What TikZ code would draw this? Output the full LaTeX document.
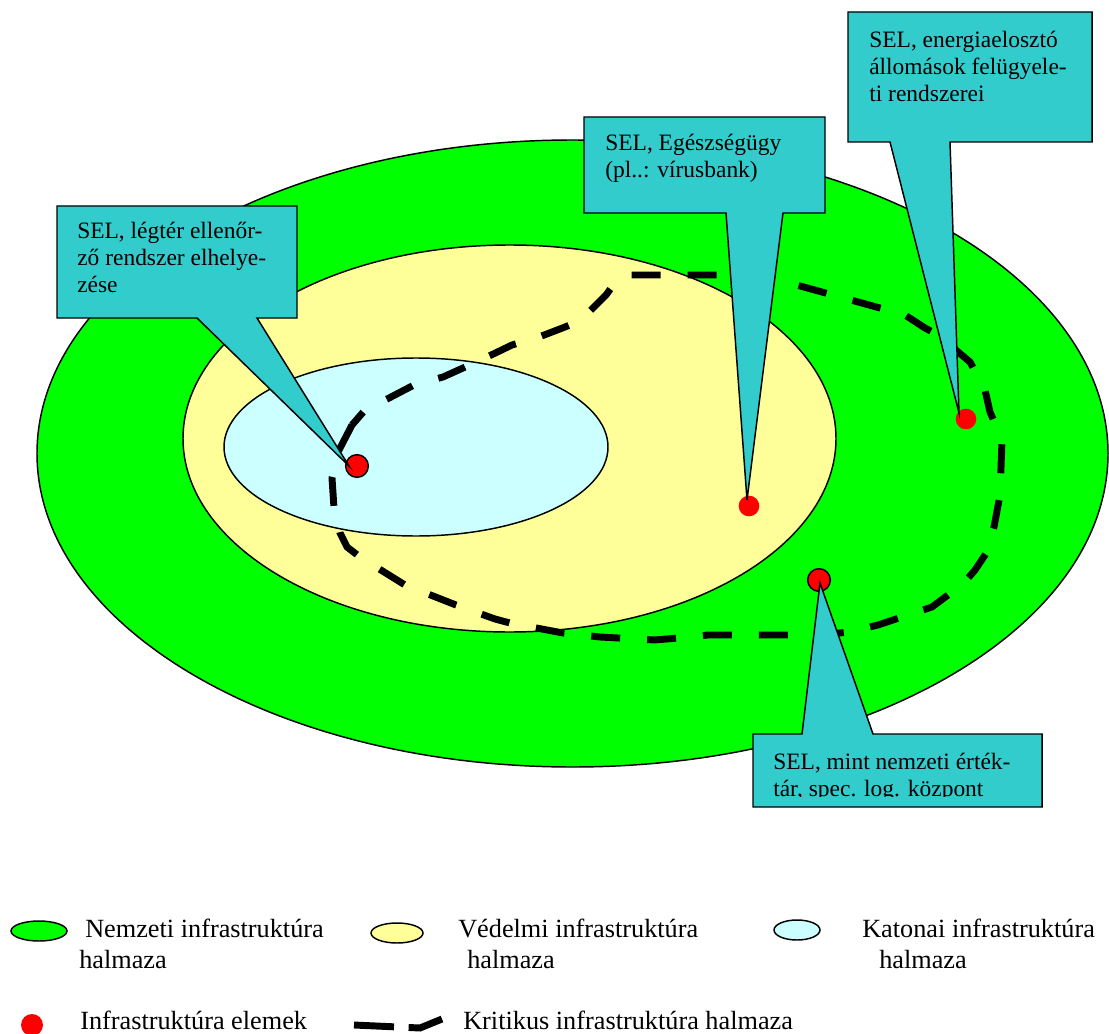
\documentclass[tikz,border=0pt]{standalone}
\usepackage{fontspec}
\setmainfont{Liberation Serif}
\definecolor{nemzeti}{HTML}{00FF00}
\definecolor{vedelmi}{HTML}{FFFF99}
\definecolor{katonai}{HTML}{CCFFFF}
\definecolor{calloutfill}{HTML}{33CCCC}
\definecolor{elem}{HTML}{FF0000}
\begin{document}
\begin{tikzpicture}[x=0.75pt,y=-0.75pt,
  outline/.style={draw=black,line width=1.1pt},
  nemzetiset/.style={outline,fill=nemzeti},
  vedelmiset/.style={outline,fill=vedelmi},
  katonaiset/.style={outline,fill=katonai},
  kritikus/.style={line width=5.2pt,dash pattern=on 21.75pt off 20.25pt},
  dotrim/.style={circle,draw=black,line width=1.1pt,fill=elem,inner sep=0pt,minimum size=17pt},
  dotplain/.style={circle,fill=elem,inner sep=0pt,minimum size=15.5pt},
  callout/.style={draw=black,line width=1.1pt,fill=calloutfill,line join=miter},
  calltext/.style={anchor=north west,inner sep=0pt,align=left,
    font=\fontsize{17.6}{20.4}\selectfont},
  legtext/.style={anchor=base west,inner sep=0pt,font=\fontsize{19.7}{23}\selectfont}
]
\useasboundingbox (0,0) rectangle (1109,1034);
\clip (0,0) rectangle (1109,1034);

% nested sets
\draw[nemzetiset] (572.5,453.5) ellipse [x radius=535.5, y radius=313.5];
\draw[vedelmiset] (509.5,438.5) ellipse [x radius=326.5, y radius=193.5];
\draw[katonaiset] (416,447) ellipse [x radius=192, y radius=89];

% critical infrastructure boundary
\draw[kritikus] (352,425) -- (338,452) -- (332,478) -- (334,508) -- (340,533)
  -- (347,547) -- (360,557) -- (405,585) -- (456,605) -- (495,619) -- (510,623)
  -- (563,633) -- (600,637) -- (655,640) -- (690,637) -- (708,635) -- (820,635)
  -- (849,632) -- (878,625) -- (932,607) -- (952,592) -- (963,584) -- (975,570)
  -- (987,552) -- (994,527) -- (1000,495) -- (1002,440) -- (990,412) -- (985,390)
  -- (970,362) -- (938,335) -- (925,328) -- (905,315) -- (851,300) -- (771,278)
  -- (733,275) -- (628,275) -- (617,280) -- (606,295) -- (588,313) -- (577,322)
  -- (565,327) -- (539,337) -- (512,345) -- (487,357) -- (463,368) -- (443,377)
  -- (414,385) -- (391,397) -- (365,410) -- cycle;

% infrastructure elements
\node[dotrim] (d1) at (357,466) {};
\node[dotplain] (d2) at (749,506) {};
\node[dotplain] (d3) at (966,419) {};
\node[dotrim] (d4) at (819,580) {};

\coordinate (t1) at (349,466);
\coordinate (t2) at (747,500);
\coordinate (t3) at (959,413);
\coordinate (t4) at (820,583);

% callouts
\draw[callout] (57,206) -- (297,206) -- (297,318) -- (257,318) -- (t1)
  -- (197,318) -- (57,318) -- cycle;
\node[calltext] (c1) at (77,222) {SEL, légtér ellenőr-\\ző rendszer elhelye-\\zése};

\draw[callout] (584,117) -- (825,117) -- (825,213) -- (783,213) -- (t2)
  -- (726,213) -- (584,213) -- cycle;
\node[calltext] (c2) at (605,134) {SEL, Egészségügy\\(pl..: vírusbank)};

\draw[callout] (848,12) -- (1092,12) -- (1092,142) -- (950,142) -- (t3)
  -- (890,142) -- (848,142) -- cycle;
\node[calltext] (c3) at (869,31) {SEL, energiaelosztó\\állomások felügyele-\\ti rendszerei};

\draw[callout] (753,734) -- (802,734) -- (t4) -- (873,734) -- (1042,734)
  -- (1042,807) -- (753,807) -- cycle;
\begin{scope}
  \clip (753,734) rectangle (1042,796);
  \node[calltext] (c4) at (773,753) {SEL, mint nemzeti érték-\\tár, spec. log. központ};
\end{scope}

% legend
\draw[nemzetiset] (39,931) ellipse [x radius=28, y radius=10];
\node[legtext] (l1a) at (85,937) {Nemzeti infrastruktúra};
\node[legtext] (l1b) at (79,968) {halmaza};

\draw[vedelmiset] (397,933) ellipse [x radius=26, y radius=10];
\node[legtext] (l2a) at (458,937) {Védelmi infrastruktúra};
\node[legtext] (l2b) at (467,968) {halmaza};

\draw[katonaiset] (797,930) ellipse [x radius=23, y radius=10];
\node[legtext] (l3a) at (862,937) {Katonai infrastruktúra};
\node[legtext] (l3b) at (879,968) {halmaza};

\fill[elem] (32,1025) ellipse [x radius=11, y radius=11];
\node[legtext] (l4) at (80,1029) {Infrastruktúra elemek};

\draw[kritikus,dash pattern=on 30pt off 11pt] (354,1025) -- (420,1028) -- (442,1019);
\node[legtext] (l5) at (463,1029) {Kritikus infrastruktúra halmaza};
\end{tikzpicture}
\end{document}
